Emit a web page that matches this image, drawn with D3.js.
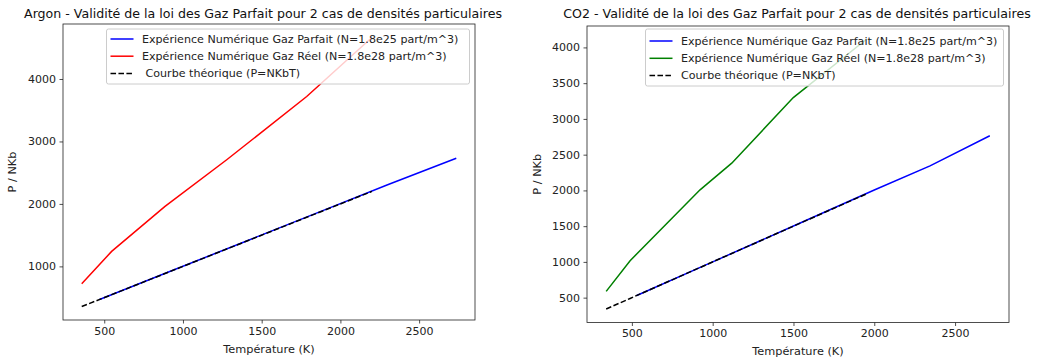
<!DOCTYPE html>
<html>
<head>
<meta charset="utf-8">
<script src="https://cdnjs.cloudflare.com/ajax/libs/d3/7.8.5/d3.min.js"></script>
<style>
  html, body { margin: 0; padding: 0; background: #fff; }
  svg { display: block; font-family: "DejaVu Sans", sans-serif; }
</style>
</head>
<body>
<svg id="chart" width="1050" height="361"></svg>
<script>
// ---------- DATA ----------
const titles = [
  "Argon - Validité de la loi des Gaz Parfait pour 2 cas de densités particulaires",
  "CO2 - Validité de la loi des Gaz Parfait pour 2 cas de densités particulaires"
];
const xLabel = "Température (K)";
const yLabel = "P / NKb";
const legendLabels = [
  ["Expérience Numérique Gaz Parfait (N=1.8e25 part/m^3)",
   "Expérience Numérique Gaz Réel (N=1.8e28 part/m^3)",
   " Courbe théorique (P=NKbT)"],
  ["Expérience Numérique Gaz Parfait (N=1.8e25 part/m^3)",
   "Expérience Numérique Gaz Réel (N=1.8e28 part/m^3)",
   "Courbe théorique (P=NKbT)"]
];

// Argon
const argonIdealT = [470, 900, 1400, 1900, 2300, 2736];
const argonIdealP = [470, 903, 1402, 1905, 2308, 2730];
const argonRealT  = [357, 547, 886, 1278, 1786, 2200];
const argonRealP  = [723, 1240, 1960, 2707, 3720, 4665];
const argonTheoT  = [357, 547, 886, 1278, 1786, 2200];
const argonTheoP  = [357, 547, 886, 1278, 1786, 2200];

// CO2
const co2IdealT = [530, 1000, 1500, 2000, 2345, 2715];
const co2IdealP = [530, 1000, 1502, 2005, 2343, 2765];
const co2RealT  = [341, 489, 922, 1118, 1499, 1950];
const co2RealP  = [588, 1017, 2008, 2381, 3298, 4111];
const co2TheoT  = [341, 489, 922, 1118, 1499, 1950];
const co2TheoP  = [341, 489, 922, 1118, 1499, 1950];

const xTicks = [500, 1000, 1500, 2000, 2500];
const yTicksArgon = [1000, 2000, 3000, 4000];
const yTicksCO2 = [500, 1000, 1500, 2000, 2500, 3000, 3500, 4000];

// ---------- DRAW ----------
const svg = d3.select("#chart");
const zip = (a, b) => a.map((v, i) => [v, b[i]]);

function padDomain(vals) {
  const [mn, mx] = d3.extent(vals);
  const p = (mx - mn) * 0.05;
  return [mn - p, mx + p];
}

function drawChart(cfg) {
  const g = svg.append("g");
  const series = cfg.series;
  const allX = series.flatMap(s => s.x);
  const allY = series.flatMap(s => s.y);
  const x = d3.scaleLinear().domain(padDomain(allX)).range([cfg.left, cfg.right]);
  const y = d3.scaleLinear().domain(padDomain(allY)).range([cfg.bottom, cfg.top]);

  // lines
  const line = d3.line().x(d => x(d[0])).y(d => y(d[1]));
  const clipId = "clip" + cfg.id;
  g.append("clipPath").attr("id", clipId).append("rect")
    .attr("x", cfg.left).attr("y", cfg.top)
    .attr("width", cfg.right - cfg.left).attr("height", cfg.bottom - cfg.top);
  series.forEach(s => {
    g.append("path")
      .attr("clip-path", `url(#${clipId})`)
      .attr("d", line(zip(s.x, s.y)))
      .attr("fill", "none")
      .attr("stroke", s.color)
      .attr("stroke-width", 1.5)
      .attr("stroke-dasharray", s.dash ? "5.55,2.4" : null);
  });

  // axes
  const xAxis = d3.axisBottom(x).tickValues(xTicks).tickSize(3.5).tickPadding(3.5).tickFormat(d3.format("d"));
  const yAxis = d3.axisLeft(y).tickValues(cfg.yTicks).tickSize(3.5).tickPadding(3.5).tickFormat(d3.format("d"));
  const gx = g.append("g").attr("transform", `translate(0,${cfg.bottom})`).call(xAxis);
  const gy = g.append("g").attr("transform", `translate(${cfg.left},0)`).call(yAxis);
  [gx, gy].forEach(a => {
    a.select(".domain").remove();
    a.selectAll("line").attr("stroke", "#222").attr("stroke-width", 0.8);
    a.selectAll("text").attr("font-size", 11).attr("fill", "#222")
      .attr("font-family", "DejaVu Sans, sans-serif");
  });

  // frame
  g.append("rect")
    .attr("x", cfg.left).attr("y", cfg.top)
    .attr("width", cfg.right - cfg.left).attr("height", cfg.bottom - cfg.top)
    .attr("fill", "none").attr("stroke", "#222").attr("stroke-width", 0.8);

  // title
  g.append("text")
    .attr("x", cfg.titleX).attr("y", 18)
    .attr("text-anchor", "middle").attr("font-size", 12.6).attr("fill", "#111")
    .text(cfg.title);

  // axis labels
  g.append("text")
    .attr("x", (cfg.left + cfg.right) / 2).attr("y", cfg.xlabelY)
    .attr("text-anchor", "middle").attr("font-size", 11.3).attr("fill", "#222")
    .text(xLabel);
  g.append("text")
    .attr("transform", `translate(${cfg.ylabelX},${(cfg.top + cfg.bottom) / 2}) rotate(-90)`)
    .attr("text-anchor", "middle").attr("font-size", 11.3).attr("fill", "#222")
    .text(yLabel);

  // legend
  const L = cfg.legend;
  const lg = g.append("g");
  lg.append("rect")
    .attr("x", L.x).attr("y", L.y).attr("width", L.w).attr("height", L.h)
    .attr("rx", 2).attr("ry", 2)
    .attr("fill", "#fff").attr("fill-opacity", 0.8)
    .attr("stroke", "#cccccc").attr("stroke-width", 1);
  series.forEach((s, i) => {
    const yy = L.y + L.first + i * L.row;
    lg.append("line")
      .attr("x1", L.x + 4).attr("x2", L.x + 27)
      .attr("y1", yy).attr("y2", yy)
      .attr("stroke", s.color).attr("stroke-width", 1.5)
      .attr("stroke-dasharray", s.dash ? "5.55,2.4" : null);
    lg.append("text")
      .attr("x", L.x + 35.5).attr("y", yy).attr("dy", "0.35em")
      .attr("font-size", 11.1).attr("fill", "#222")
      .attr("xml:space", "preserve")
      .style("white-space", "pre")
      .text(cfg.labels[i]);
  });
}

drawChart({
  id: 0, left: 63, right: 475, top: 24, bottom: 320, ylabelX: 16, xlabelY: 352.5, titleX: 263,
  title: titles[0], yTicks: yTicksArgon, labels: legendLabels[0],
  legend: { x: 106.5, y: 29, w: 363, h: 55, first: 10, row: 17.2 },
  series: [
    { x: argonIdealT, y: argonIdealP, color: "blue" },
    { x: argonRealT, y: argonRealP, color: "red" },
    { x: argonTheoT, y: argonTheoP, color: "black", dash: true }
  ]
});

drawChart({
  id: 1, left: 587, right: 1009, top: 26, bottom: 322.5, ylabelX: 541, xlabelY: 354.5, titleX: 797,
  title: titles[1], yTicks: yTicksCO2, labels: legendLabels[1],
  legend: { x: 645.5, y: 29, w: 358, h: 57, first: 12, row: 17.3 },
  series: [
    { x: co2IdealT, y: co2IdealP, color: "blue" },
    { x: co2RealT, y: co2RealP, color: "green" },
    { x: co2TheoT, y: co2TheoP, color: "black", dash: true }
  ]
});
</script>
</body>
</html>
